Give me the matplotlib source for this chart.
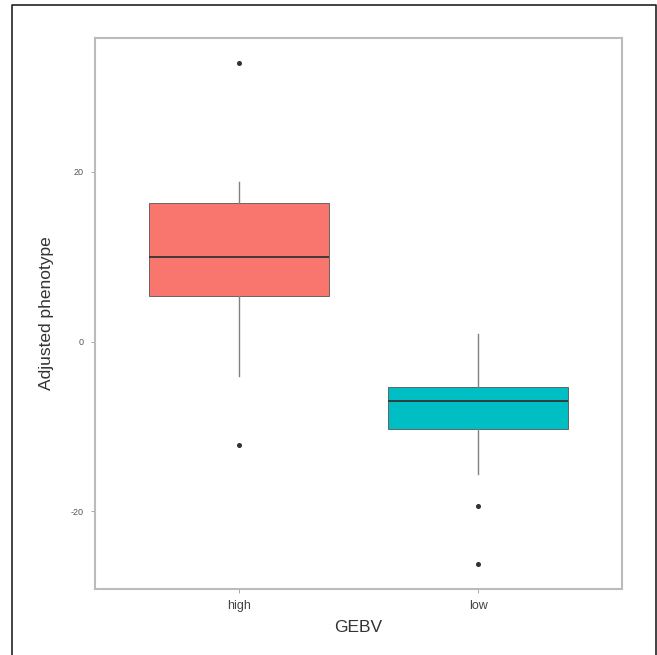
import matplotlib
matplotlib.use("Agg")
import matplotlib.pyplot as plt
from matplotlib.lines import Line2D

plt.rcParams['font.family'] = ['Liberation Sans', 'DejaVu Sans']

# ---- data ----
categories = ["high", "low"]
whisker_low = [-4.1, -15.6]
q1 = [5.4, -10.35]
median = [10.0, -7.05]
q3 = [16.35, -5.3]
whisker_high = [18.8, 0.9]
outliers = [[32.8, -12.2], [-19.4, -26.2]]
fills = ["#F8766D", "#00BFC4"]
yticks = [-20, 0, 20]
ytick_labels = ["-20", "0", "20"]

W, H = 657, 655
fig = plt.figure(figsize=(W / 100, H / 100), dpi=100)
ax = fig.add_axes([95 / W, (H - 589) / H, (622 - 95) / W, (589 - 38) / H])

stats = []
for i, c in enumerate(categories):
    stats.append(dict(label=c, whislo=whisker_low[i], q1=q1[i], med=median[i],
                      q3=q3[i], whishi=whisker_high[i], fliers=outliers[i]))

bp = ax.bxp(stats, positions=[1, 2], widths=0.75, patch_artist=True,
            showcaps=False,
            boxprops=dict(edgecolor="#555555", linewidth=0.6),
            medianprops=dict(color="#333333", linewidth=1.3),
            whiskerprops=dict(color="#808080", linewidth=1.0),
            flierprops=dict(marker="o", markersize=2.6, markerfacecolor="#333333",
                            markeredgecolor="#333333"))
for patch, col in zip(bp["boxes"], fills):
    patch.set_facecolor(col)

ax.set_xlim(0.4, 2.6)
allv = whisker_low + whisker_high + sum(outliers, [])
lo, hi = min(allv), max(allv)
pad = (hi - lo) * 0.05
ax.set_ylim(lo - pad, hi + pad)

ax.set_yticks(yticks)
ax.set_yticklabels(ytick_labels, fontsize=6.5, color="#555555")
ax.set_xticks([1, 2])
ax.set_xticklabels(categories, fontsize=9, color="#444444")
ax.tick_params(axis="both", length=3, width=0.6, color="#999999")
ax.tick_params(axis="y", pad=5)
ax.tick_params(axis="x", pad=5)

for s in ax.spines.values():
    s.set_color("#BBBBBB")
    s.set_linewidth(1.5)

ax.set_xlabel("GEBV", fontsize=12.5, color="#333333", labelpad=6)
ax.set_ylabel("Adjusted phenotype", fontsize=12.5, color="#333333", labelpad=12)

# outer frame (left, top, right)
fx0, fx1, fy1 = 12 / W, 655.5 / W, 1 - 5 / H
fig.add_artist(Line2D([fx0, fx0, fx1, fx1], [0, fy1, fy1, 0], transform=fig.transFigure,
                      color="#222222", linewidth=1.2))

fig.savefig("out.png", dpi=100)
